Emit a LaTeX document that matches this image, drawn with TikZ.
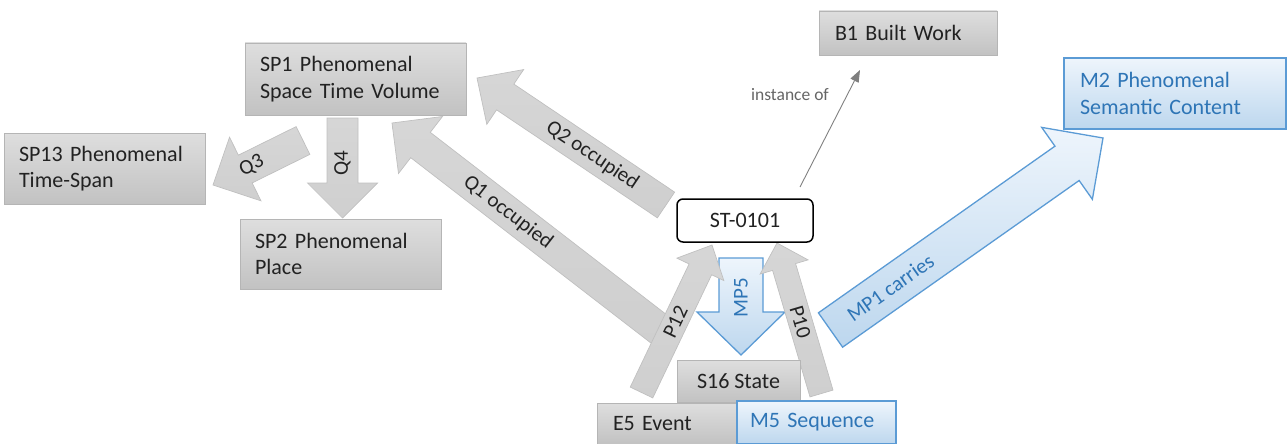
\documentclass[tikz,border=0pt]{standalone}
\usepackage{fontspec}
\setmainfont{Carlito}
\usetikzlibrary{calc,arrows.meta}
\definecolor{boxtop}{HTML}{DEDEDE}
\definecolor{boxbot}{HTML}{C2C2C2}
\definecolor{boxline}{HTML}{B5B5B5}
\definecolor{arrfill}{HTML}{CFCFCF}
\definecolor{arrline}{HTML}{C0C0C0}
\definecolor{bluetop}{HTML}{EEF5FC}
\definecolor{bluebot}{HTML}{BDD7EE}
\definecolor{blueline}{HTML}{5B9BD5}
\definecolor{bluetext}{HTML}{2E75B6}
\definecolor{darktext}{HTML}{222222}
\definecolor{iogray}{HTML}{7F7F7F}
\tikzset{
  boxfont/.style={font=\fontsize{22}{26.5}\selectfont},
  gbox/.style={boxfont, draw=boxline, line width=0.8pt, top color=boxtop, bottom color=boxbot, text=darktext, align=left, inner ysep=0pt},
  bbox/.style={boxfont, draw=blueline, line width=1.3pt, top color=bluetop, bottom color=bluebot, text=bluetext, align=left, inner ysep=0pt},
  garrow/.style={draw=arrline, line width=0.7pt, top color=arrfill!85!white, bottom color=arrfill},
  barrow/.style={draw=blueline, line width=1.3pt, top color=bluetop, bottom color=bluebot},
  glabel/.style={font=\fontsize{21}{25}\selectfont, text=darktext},
  blabel/.style={font=\fontsize{21}{25}\selectfont, text=bluetext},
}
% #1 tail, #2 tip, #3 shaft half width, #4 head half width, #5 head length,
% #6 style, #7 label pos, #8 label options, #9 label
\newcommand{\blockarr}[9]{%
  \coordinate (bh) at ($(#2)!#5!(#1)$);
  \path[#6] ($(#1)!#3!90:(#2)$) -- ($(bh)!#3!-90:(#1)$) -- ($(bh)!#4!-90:(#1)$)
     -- (#2) -- ($(bh)!#4!90:(#1)$) -- ($(bh)!#3!90:(#1)$) -- ($(#1)!#3!-90:(#2)$) -- cycle;
  \path (#1) -- (#2) node[pos=#7, #8] {#9};
}
\begin{document}
\begin{tikzpicture}[x=1pt,y=-1pt]
\useasboundingbox (0,0) rectangle (1287,444);

% arrow end points
\coordinate (q1t) at (668,336);   \coordinate (q1h) at (392,123);
\coordinate (q2t) at (666,205);   \coordinate (q2h) at (477,78);
\coordinate (q3t) at (303,140.5); \coordinate (q3h) at (213,185);
\coordinate (q4t) at (342.5,118); \coordinate (q4h) at (342.5,218);
\coordinate (mp5t) at (741,258);  \coordinate (mp5h) at (741,355);
\coordinate (p12t) at (641.5,392.5); \coordinate (p12h) at (712,245);
\coordinate (p10t) at (821.5,393.5); \coordinate (p10h) at (777,243);
\coordinate (mp1t) at (830.5,330); \coordinate (mp1h) at (1103,138);
\coordinate (iot) at (800,187);   \coordinate (ioh) at (860,70);

% block arrows
\blockarr{q1t}{q1h}{16pt}{36pt}{36pt}{garrow}{0.58}{sloped,glabel}{Q1 occupied}
\blockarr{q2t}{q2h}{15.5pt}{33pt}{34pt}{garrow}{0.39}{sloped,glabel}{Q2 occupied}
\blockarr{q3t}{q3h}{15.5pt}{35.5pt}{36pt}{garrow}{0.57}{sloped,glabel}{Q3}
\blockarr{q4t}{q4h}{15.5pt}{35pt}{35pt}{garrow}{0.45}{rotate=90,glabel}{Q4}
\blockarr{mp5t}{mp5h}{22pt}{44pt}{43pt}{barrow}{0.41}{rotate=90,blabel}{MP5}
\blockarr{p12t}{p12h}{12.5pt}{26pt}{27pt}{garrow}{0.48}{sloped,glabel}{P12}
\blockarr{p10t}{p10h}{12pt}{25pt}{25pt}{garrow}{0.475}{sloped,glabel}{P10}
\blockarr{mp1t}{mp1h}{21pt}{44pt}{44pt}{barrow}{0.22}{sloped,blabel}{MP1 carries}

% instance of
\draw[iogray, line width=0.9pt, -{Triangle[length=12pt,width=9pt]}] (iot) -- (ioh);
\node[font=\fontsize{17.5}{21}\selectfont, text=iogray!80!black] (iol) at (790,95) {instance of};

% boxes
\node[gbox, minimum width=221pt, minimum height=72pt, inner xsep=15pt, text width=191pt] (sp1) at (355.5,79) {SP1 Phenomenal\\Space Time Volume};
\node[gbox, minimum width=201pt, minimum height=71pt, inner xsep=15pt, text width=171pt] (sp13) at (104.5,168.5) {SP13 Phenomenal\\Time-Span};
\node[gbox, minimum width=201pt, minimum height=70pt, inner xsep=15pt, text width=171pt] (sp2) at (340.5,254) {SP2 Phenomenal\\Place};
\node[gbox, minimum width=178pt, minimum height=44pt, inner xsep=16pt, text width=146pt] (b1) at (908,33) {B1 Built Work};
\node[bbox, minimum width=222pt, minimum height=71pt, inner xsep=16pt, text width=190pt] (m2) at (1175,93.5) {M2 Phenomenal\\Semantic Content};
\node[boxfont, draw=black, line width=1.5pt, fill=white, rounded corners=6pt, minimum width=136pt, minimum height=43pt, inner sep=0pt, text=darktext] (st) at (745,220.5) {ST-0101};
\node[gbox, minimum width=123pt, minimum height=42pt, inner xsep=0pt, align=center] (s16) at (738.5,381) {S16 State};
\node[gbox, minimum width=140pt, minimum height=41pt, inner xsep=16pt, text width=108pt] (e5) at (667,423.5) {E5 Event};
\node[bbox, minimum width=159pt, minimum height=43pt, inner xsep=13pt, text width=133pt] (m5) at (816.5,422.5) {M5 Sequence};
\end{tikzpicture}
\end{document}
